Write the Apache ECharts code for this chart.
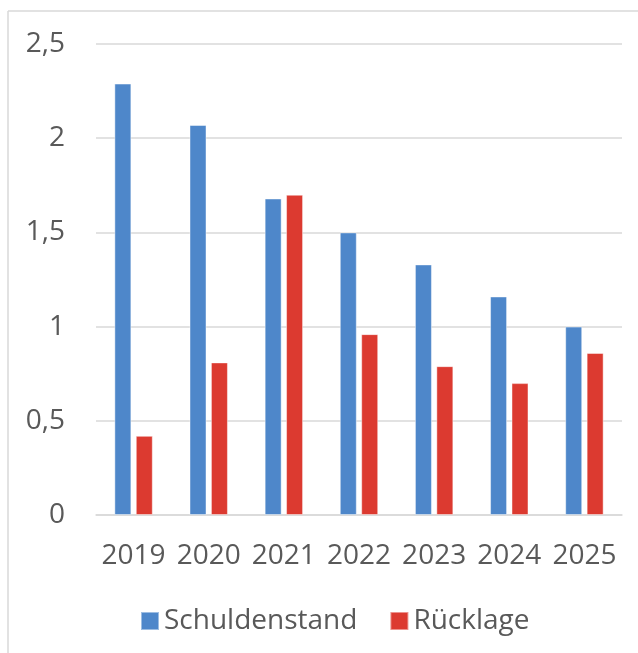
<!DOCTYPE html>
<html>
<head>
<meta charset="utf-8">
<script src="https://cdn.jsdelivr.net/npm/echarts@6/dist/echarts.min.js"></script>
<style>html,body{margin:0;padding:0;background:#fff;}#c{width:638px;height:653px;}</style>
</head>
<body>
<div id="c"></div>
<script>
var categories = ['2019', '2020', '2021', '2022', '2023', '2024', '2025'];
var schuldenstand = [2.29, 2.07, 1.68, 1.50, 1.33, 1.16, 1.00];
var ruecklage = [0.42, 0.81, 1.70, 0.96, 0.79, 0.70, 0.86];
var seriesNames = ['Schuldenstand', 'Rücklage'];
var yTicks = [0, 0.5, 1, 1.5, 2, 2.5];

var FONT = '"Open Sans", sans-serif';
var chart = echarts.init(document.getElementById('c'), null, {renderer: 'canvas'});
chart.setOption({
  animation: false,
  backgroundColor: '#ffffff',
  textStyle: {fontFamily: FONT},
  graphic: [
    {type: 'line', shape: {x1: 8, y1: 11, x2: 638, y2: 11}, style: {stroke: '#d9d9d9', lineWidth: 1.5}},
    {type: 'line', shape: {x1: 8, y1: 11, x2: 8, y2: 653}, style: {stroke: '#d9d9d9', lineWidth: 1.5}}
  ],
  grid: {left: 96, right: 16, top: 44, bottom: 138, containLabel: false},
  legend: {
    data: seriesNames,
    left: 140,
    top: 607,
    padding: 0,
    icon: 'rect',
    itemWidth: 18,
    itemHeight: 18,
    itemGap: 32,
    textStyle: {fontSize: 28, color: '#595959', fontFamily: FONT}
  },
  xAxis: {
    type: 'category',
    data: categories,
    axisLine: {show: true, lineStyle: {color: '#d9d9d9', width: 1.5}},
    axisTick: {show: false},
    axisLabel: {fontSize: 28, color: '#595959', margin: 27, interval: 0, fontFamily: FONT}
  },
  yAxis: {
    type: 'value',
    min: yTicks[0],
    max: yTicks[yTicks.length - 1],
    interval: 0.5,
    axisLine: {show: false},
    axisTick: {show: false},
    splitLine: {lineStyle: {color: '#d9d9d9', width: 1.5}},
    axisLabel: {
      fontSize: 28, color: '#595959', margin: 31, fontFamily: FONT,
      formatter: function (v) { return String(v).replace('.', ','); }
    }
  },
  series: [
    {
      name: seriesNames[0], type: 'bar', data: schuldenstand,
      barWidth: 17, barGap: '26%',
      itemStyle: {color: '#4e87ca', borderColor: 'rgba(255,255,255,0.45)', borderWidth: 1}
    },
    {
      name: seriesNames[1], type: 'bar', data: ruecklage,
      barWidth: 17, barGap: '26%',
      itemStyle: {color: '#dc3a30', borderColor: 'rgba(255,255,255,0.45)', borderWidth: 1}
    }
  ]
});
</script>
</body>
</html>
